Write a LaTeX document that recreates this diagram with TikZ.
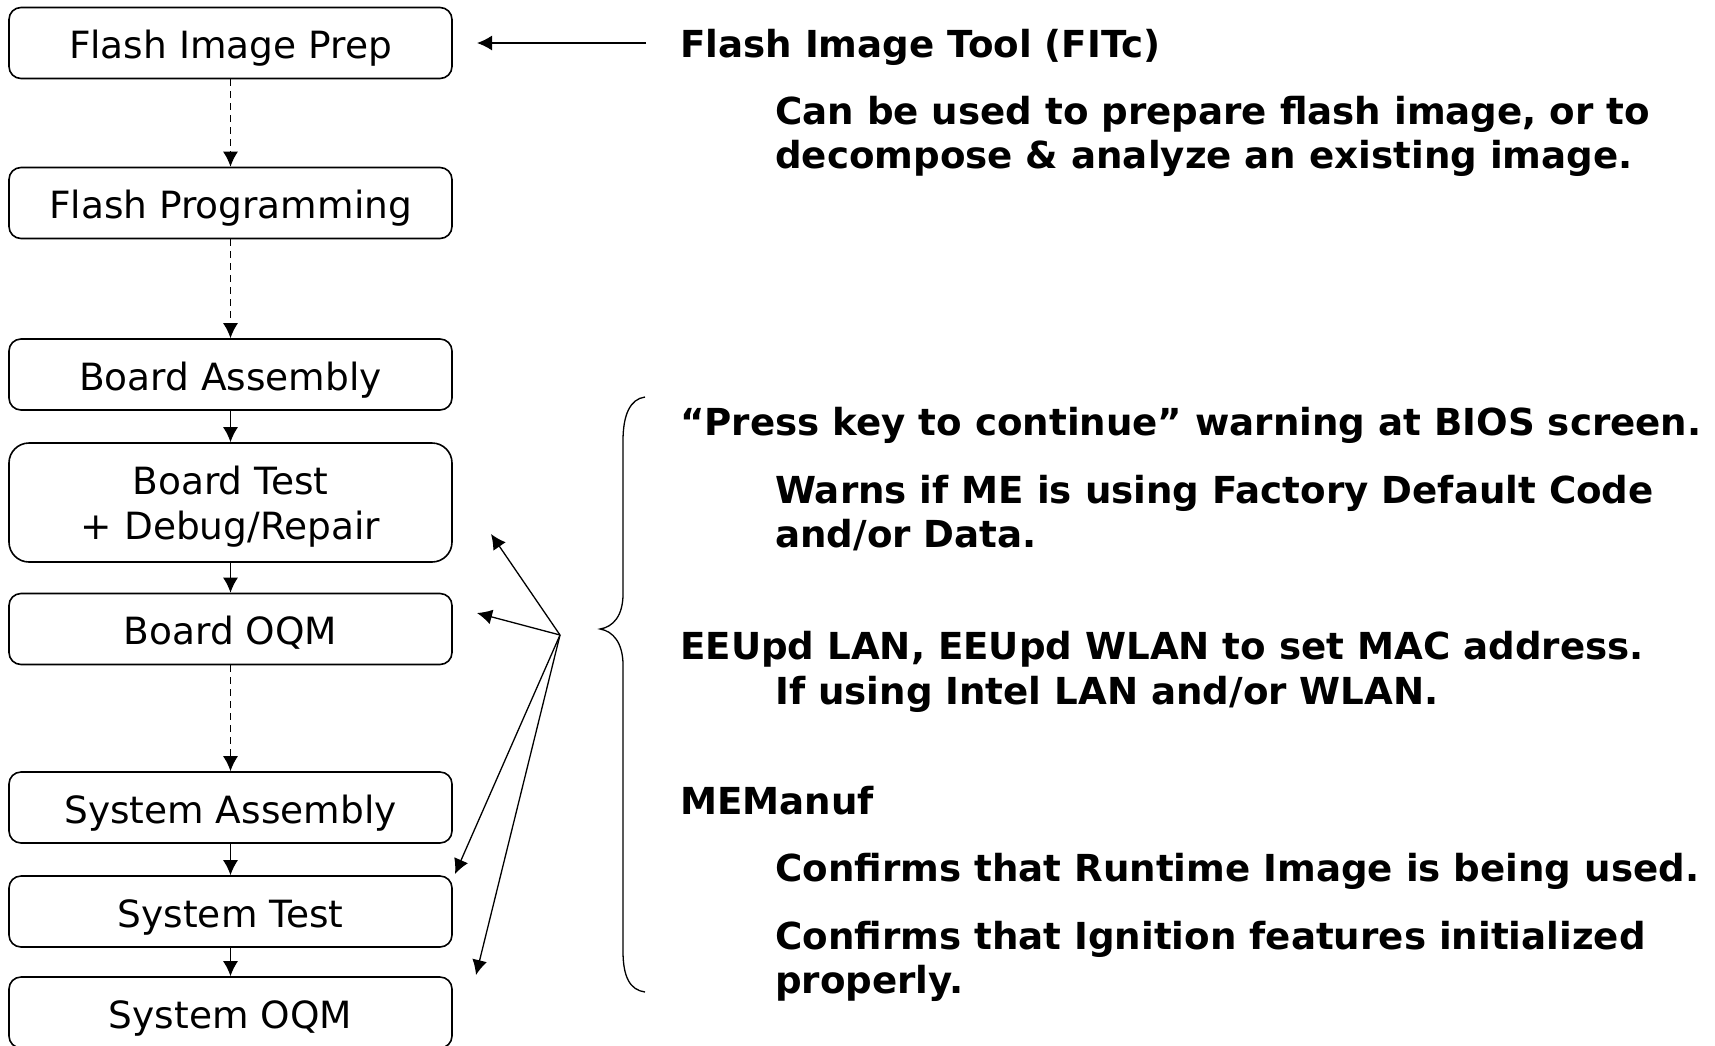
\documentclass[tikz,border=0pt]{standalone}
\usepackage{fontspec}
\setmainfont{DejaVu Sans}
\usetikzlibrary{positioning}
\usetikzlibrary{arrows.meta}
\usetikzlibrary{calc}

\tikzset{
  stage/.style={draw, line width=1.6pt, rounded corners=12pt, minimum width=443pt,
    minimum height=71pt, inner sep=0pt, align=center, font=\fontsize{37.5}{45}\selectfont},
  oneline/.style={text height=34pt, text depth=2.6pt},
  flow/.style={line width=1.5pt, -{Latex[length=15pt,width=15pt]}},
  gap/.style={flow, dash pattern=on 7pt off 5pt},
  note/.style={anchor=base west, inner sep=0pt, align=left, font=\bfseries\fontsize{37.2}{44}\selectfont},
}

\begin{document}
\begin{tikzpicture}[x=1pt,y=-1pt]
\useasboundingbox (0,0) rectangle (1715,1045);

% process steps
\node[stage, oneline] (flashPrep) at (230.5,43) {Flash Image Prep};
\node[stage, oneline] (flashProg) at (230.5,203) {Flash Programming};
\node[stage, oneline] (boardAsm) at (230.5,374.5) {Board Assembly};
\node[stage, minimum height=119pt, rounded corners=20pt, text depth=0pt] (boardTest) at (230.5,502.5) {Board Test\\+ Debug/Repair};
\node[stage, oneline] (boardOQM) at (230.5,629) {Board OQM};
\node[stage, oneline] (sysAsm) at (230.5,807.5) {System Assembly};
\node[stage, oneline] (sysTest) at (230.5,911.5) {System Test};
\node[stage, oneline] (sysOQM) at (230.5,1012.5) {System OQM};

\draw[gap] (flashPrep.south) -- (flashProg.north);
\draw[gap] (flashProg.south) -- (boardAsm.north);
\draw[flow] (boardAsm.south) -- (boardTest.north);
\draw[flow] (boardTest.south) -- (boardOQM.north);
\draw[gap] (boardOQM.south) -- (sysAsm.north);
\draw[flow] (sysAsm.south) -- (sysTest.north);
\draw[flow] (sysTest.south) -- (sysOQM.north);

% tool notes (base = last line)
\node[note] (fitTitle) at (680,57) {Flash Image Tool (FITc)};
\node[note] (fitDesc) at (775,168) {Can be used to prepare flash image, or to\\decompose \& analyze an existing image.};
\node[note] (biosTitle) at (680,435) {“Press key to continue” warning at BIOS screen.};
\node[note] (biosDesc) at (775,547) {Warns if ME is using Factory Default Code\\and/or Data.};
\node[note] (eeTitle) at (680,659) {EEUpd LAN, EEUpd WLAN to set MAC address.};
\node[note] (eeDesc) at (775,704) {If using Intel LAN and/or WLAN.};
\node[note] (meTitle) at (680,814) {MEManuf};
\node[note] (meRuntime) at (775,881) {Confirms that Runtime Image is being used.};
\node[note] (meIgnition) at (775,993) {Confirms that Ignition features initialized\\properly.};

\coordinate (fitFrom) at (646,43);
\coordinate (fitTo) at (477,43);
\draw[flow] (fitFrom) -- (fitTo);

% brace and fan
\draw[line width=1.3pt] (645,397) .. controls (630,399) and (623,415) .. (623,441)
  -- (623,594) .. controls (623,616) and (613,627) .. (600,629)
  .. controls (613,631) and (623,643) .. (623,665) -- (623,951)
  .. controls (623,977) and (630,990) .. (645,992);

\coordinate (hub) at (560,635);
\coordinate (tipTest) at (491,534);
\coordinate (tipBoard) at (477,613);
\coordinate (tipSys) at (455,874);
\coordinate (tipSysOQM) at (476,975);
\foreach \t in {tipTest,tipBoard,tipSys,tipSysOQM}
  \draw[flow, line width=1.3pt] (hub) -- (\t);
\end{tikzpicture}
\end{document}
